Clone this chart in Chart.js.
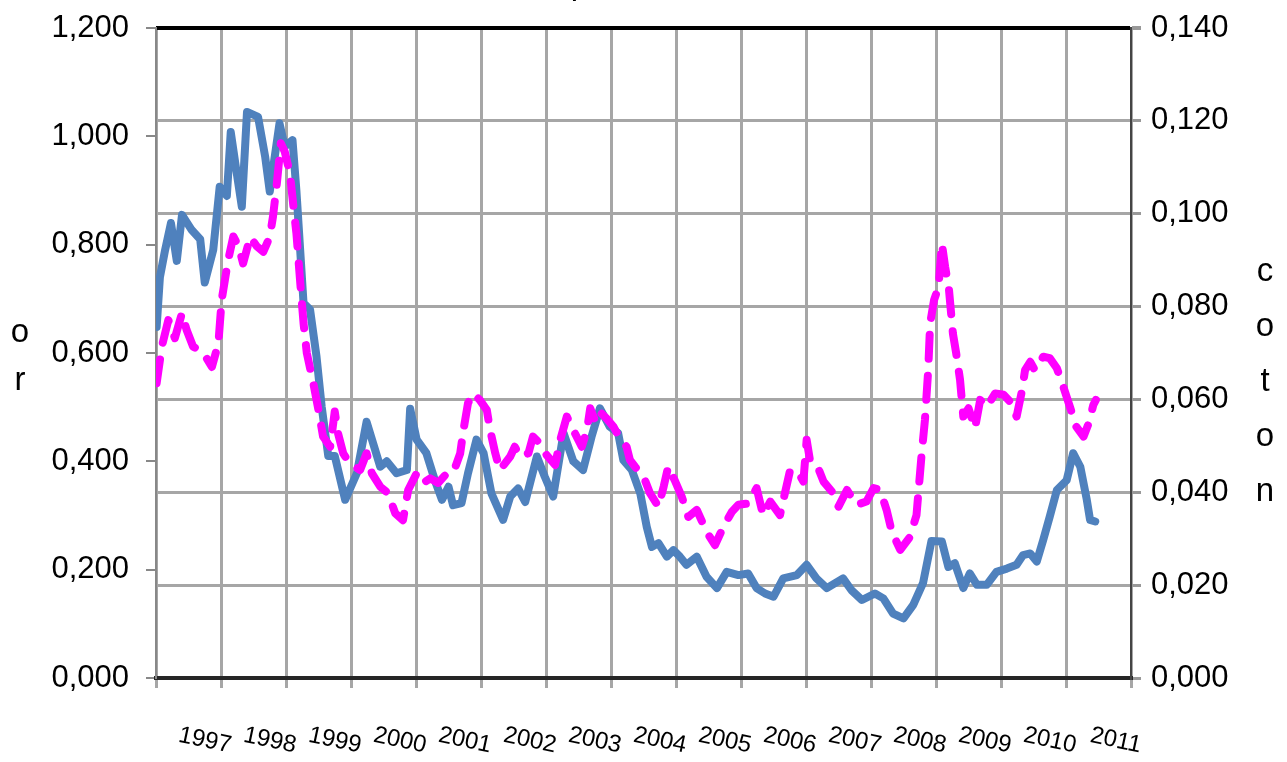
<!DOCTYPE html>
<html>
<head>
<meta charset="utf-8">
<script src="https://cdn.jsdelivr.net/npm/chart.js@4.4.1/dist/chart.umd.min.js"></script>
<style>
  html,body{margin:0;padding:0;background:#fff;}
  #wrap{width:1287px;height:762px;position:relative;}
</style>
</head>
<body>
<div id="wrap"><canvas id="chart"></canvas></div>
<script>
// x axis: one gridline per year, labels hang under the gridline of their year
const yearLabels=['1997','1998','1999','2000','2001','2002','2003','2004','2005','2006','2007','2008','2009','2010','2011'];
const orTitle=['o','r'];
const cotonTitle=['c','o','t','o','n'];

// "or" series (left axis)
const orYears=[1996.01,1996.06,1996.14,1996.23,1996.32,1996.40,1996.55,1996.68,1996.75,1996.88,
  1996.98,1997.09,1997.15,1997.22,1997.32,1997.40,1997.57,1997.68,1997.75,1997.90,
  1997.98,1998.10,1998.16,1998.27,1998.37,1998.47,1998.55,1998.65,1998.75,1998.91,
  1999.09,1999.24,1999.45,1999.55,1999.70,1999.86,1999.91,2000.01,2000.16,2000.29,
  2000.40,2000.50,2000.57,2000.70,2000.80,2000.93,2001.04,2001.16,2001.34,2001.45,
  2001.57,2001.68,2001.86,2001.98,2002.11,2002.27,2002.42,2002.57,2002.70,2002.83,
  2002.98,2003.11,2003.19,2003.32,2003.45,2003.55,2003.63,2003.73,2003.86,2003.96,
  2004.06,2004.16,2004.32,2004.47,2004.63,2004.78,2004.96,2005.11,2005.24,2005.37,
  2005.50,2005.65,2005.86,2006.01,2006.16,2006.32,2006.57,2006.70,2006.86,2007.06,
  2007.19,2007.34,2007.50,2007.65,2007.80,2007.93,2008.09,2008.19,2008.29,2008.42,
  2008.52,2008.63,2008.78,2008.93,2009.09,2009.24,2009.34,2009.45,2009.55,2009.65,
  2009.75,2009.86,2010.01,2010.11,2010.22,2010.32,2010.37,2010.45];
const orValues=[0.648,0.74,0.79,0.84,0.77,0.855,0.827,0.81,0.73,0.79,
  0.907,0.89,1.008,0.95,0.87,1.045,1.036,0.962,0.898,1.024,
  0.981,0.993,0.90,0.692,0.68,0.593,0.50,0.41,0.41,0.329,
  0.378,0.473,0.39,0.40,0.378,0.384,0.497,0.44,0.415,0.365,
  0.329,0.353,0.319,0.323,0.378,0.44,0.415,0.341,0.292,0.335,
  0.35,0.325,0.409,0.372,0.335,0.452,0.40,0.384,0.445,0.498,
  0.464,0.452,0.402,0.384,0.341,0.279,0.242,0.249,0.224,0.236,
  0.224,0.209,0.224,0.187,0.166,0.196,0.19,0.193,0.166,0.156,
  0.15,0.184,0.19,0.209,0.184,0.166,0.184,0.162,0.144,0.156,
  0.147,0.119,0.11,0.135,0.175,0.253,0.252,0.205,0.212,0.166,
  0.193,0.172,0.172,0.196,0.202,0.209,0.227,0.23,0.215,0.255,
  0.298,0.347,0.365,0.415,0.39,0.329,0.292,0.289];

// "coton" series (right axis)
const cotonYears=[1996.01,1996.09,1996.19,1996.29,1996.40,1996.47,1996.57,1996.73,1996.86,1996.96,
  1997.01,1997.11,1997.19,1997.27,1997.34,1997.45,1997.55,1997.65,1997.75,1997.80,
  1997.86,1997.92,1997.98,1998.06,1998.12,1998.16,1998.22,1998.27,1998.32,1998.42,
  1998.50,1998.57,1998.68,1998.75,1998.80,1998.88,1998.98,1999.14,1999.24,1999.32,
  1999.45,1999.57,1999.68,1999.80,1999.88,2000.01,2000.11,2000.22,2000.34,2000.45,
  2000.57,2000.68,2000.73,2000.80,2000.88,2000.98,2001.09,2001.14,2001.22,2001.29,
  2001.45,2001.52,2001.60,2001.73,2001.80,2001.91,2002.01,2002.14,2002.22,2002.32,
  2002.42,2002.55,2002.63,2002.68,2002.75,2002.80,2002.93,2003.04,2003.11,2003.24,
  2003.29,2003.37,2003.50,2003.60,2003.73,2003.81,2003.88,2003.98,2004.09,2004.19,
  2004.32,2004.47,2004.60,2004.73,2004.86,2004.96,2005.11,2005.24,2005.34,2005.45,
  2005.60,2005.68,2005.75,2005.86,2005.96,2006.01,2006.06,2006.16,2006.27,2006.42,
  2006.50,2006.63,2006.78,2006.93,2007.04,2007.14,2007.24,2007.32,2007.45,2007.60,
  2007.70,2007.78,2007.83,2007.88,2007.91,2007.97,2008.04,2008.09,2008.14,2008.20,
  2008.26,2008.31,2008.37,2008.42,2008.50,2008.60,2008.68,2008.78,2008.91,2009.04,
  2009.16,2009.24,2009.32,2009.37,2009.45,2009.52,2009.65,2009.75,2009.86,2009.96,
  2010.06,2010.16,2010.27,2010.35,2010.42,2010.46];
const cotonValues=[0.0635,0.0714,0.0771,0.0732,0.0786,0.075,0.0714,0.070,0.067,0.0721,
  0.0814,0.090,0.0951,0.093,0.0893,0.095,0.093,0.0918,0.095,0.0994,
  0.1066,0.1152,0.1134,0.1087,0.1008,0.0958,0.085,0.0764,0.070,0.0635,
  0.0577,0.052,0.0498,0.0574,0.0527,0.0484,0.0462,0.0448,0.0484,0.0441,
  0.0412,0.0398,0.0355,0.034,0.0405,0.0441,0.042,0.043,0.042,0.0437,
  0.0441,0.0484,0.0534,0.0592,0.0613,0.0599,0.0577,0.0534,0.0484,0.0448,
  0.0477,0.0498,0.0477,0.0484,0.052,0.0505,0.048,0.0459,0.0513,0.0563,
  0.0534,0.0498,0.0534,0.0581,0.0556,0.0577,0.0559,0.0541,0.0523,0.0498,
  0.047,0.0455,0.0434,0.0398,0.0369,0.0412,0.0455,0.0426,0.039,0.0347,
  0.0362,0.0315,0.0286,0.0326,0.0358,0.0373,0.0376,0.0409,0.0351,0.038,
  0.0351,0.0401,0.0444,0.0448,0.0423,0.0513,0.047,0.0462,0.0423,0.0398,
  0.0369,0.0405,0.0373,0.038,0.0409,0.0405,0.0362,0.0315,0.0276,0.0304,
  0.0351,0.0484,0.0556,0.0663,0.0764,0.0814,0.0843,0.0936,0.0886,0.0836,
  0.0742,0.070,0.0642,0.0563,0.0581,0.0538,0.0599,0.0584,0.0613,0.061,
  0.0592,0.0563,0.0617,0.0663,0.0681,0.0663,0.0692,0.0689,0.0667,0.0627,
  0.0584,0.0541,0.052,0.0549,0.0588,0.0599];

const sans="'Liberation Sans',Arial,sans-serif";
const fmt=v=>Number(v).toFixed(3).replace('.',',');
const noPad=s=>{s.paddingTop=0;s.paddingBottom=0;s.paddingLeft=0;s.paddingRight=0;};

// stacked one-letter axis titles + the clipped title fragment at the top
const letterTitles={
  id:'letterTitles',
  afterDraw(chart){
    const ctx=chart.ctx;
    ctx.save();
    ctx.fillStyle='#000';
    ctx.textAlign='center';
    ctx.textBaseline='middle';
    ctx.font='33px '+sans;
    orTitle.forEach((ch,i)=>ctx.fillText(ch,20,333+i*48));
    cotonTitle.forEach((ch,i)=>ctx.fillText(ch,1265,272+i*55));
    ctx.textBaseline='alphabetic';
    ctx.fillText('p',580,-6);
    ctx.restore();
  }
};

new Chart(document.getElementById('chart'),{
  type:'line',
  data:{
    datasets:[
      {
        label:'coton',
        data:cotonYears.map((x,i)=>({x,y:cotonValues[i]})),
        yAxisID:'y1',
        borderColor:'#ff00ff',
        borderWidth:8,
        borderDash:[24,17],
        borderCapStyle:'round',
        borderJoinStyle:'round',
        pointRadius:0,
        tension:0,
        fill:false
      },
      {
        label:'or',
        data:orYears.map((x,i)=>({x,y:orValues[i]})),
        yAxisID:'y',
        borderColor:'#4f81bd',
        borderWidth:8,
        borderCapStyle:'round',
        borderJoinStyle:'round',
        pointRadius:0,
        tension:0,
        fill:false
      }
    ]
  },
  options:{
    responsive:true,
    maintainAspectRatio:false,
    animation:false,
    devicePixelRatio:1,
    layout:{padding:{top:28,left:0,right:0,bottom:0}},
    plugins:{legend:{display:false},tooltip:{enabled:false},title:{display:false}},
    scales:{
      x:{
        type:'linear',
        position:'bottom',
        min:1996,max:2011,
        afterFit:s=>{noPad(s);s.height=84;},
        ticks:{
          stepSize:1,
          autoSkip:false,
          minRotation:-12,maxRotation:-12,
          labelOffset:10,
          padding:44,
          color:'#000',
          font:{family:sans,size:24},
          callback:v=>yearLabels[v-1997]||''
        },
        grid:{color:'#a6a6a6',lineWidth:3,tickLength:10,tickColor:'#a6a6a6'},
        border:{color:'#262626',width:4}
      },
      y:{
        position:'left',
        min:0,max:1.2,
        afterFit:s=>{noPad(s);s.width=156;},
        ticks:{stepSize:0.2,padding:17,color:'#000',font:{family:sans,size:31},callback:fmt},
        grid:{drawOnChartArea:false,tickLength:10,tickColor:'#888',lineWidth:2},
        border:{color:'#888',width:2}
      },
      y1:{
        position:'right',
        min:0,max:0.14,
        afterFit:s=>{noPad(s);s.width=156;},
        ticks:{stepSize:0.02,padding:10,color:'#000',font:{family:sans,size:31},callback:fmt},
        grid:{
          color:c=>c.tick&&c.tick.value>0.139?'#000':'#a6a6a6',
          lineWidth:c=>c.tick&&c.tick.value>0.139?4:3,
          tickLength:10,tickColor:'#999'
        },
        border:{color:'#444',width:2}
      }
    }
  },
  plugins:[letterTitles]
});
</script>
</body>
</html>
